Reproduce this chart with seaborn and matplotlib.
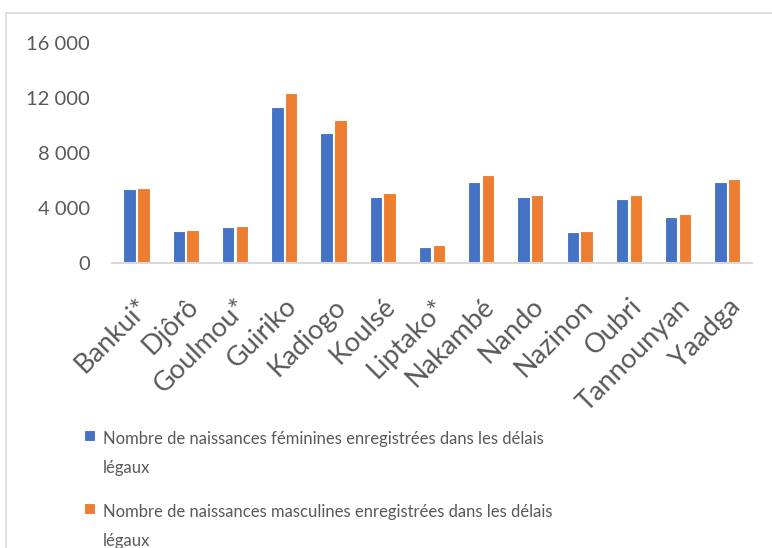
import numpy as np
import pandas as pd
import matplotlib
matplotlib.use("Agg")
import matplotlib.pyplot as plt
from matplotlib.lines import Line2D
from matplotlib.patches import Rectangle
from matplotlib.legend_handler import HandlerPatch
import seaborn as sns

regions = ["Bankui*", "Djôrô", "Goulmou*", "Guiriko", "Kadiogo", "Koulsé", "Liptako*",
           "Nakambé", "Nando", "Nazinon", "Oubri", "Tannounyan", "Yaadga"]
feminines = [5400, 2350, 2650, 11400, 9500, 4800, 1150, 5900, 4850, 2300, 4650, 3400, 5900]
masculines = [5500, 2420, 2700, 12350, 10400, 5100, 1300, 6400, 5000, 2350, 4950, 3600, 6120]
series = ["Nombre de naissances féminines enregistrées dans les délais\nlégaux",
          "Nombre de naissances masculines enregistrées dans les délais\nlégaux"]
yticks = [0, 4000, 8000, 12000, 16000]
ytick_labels = ["0", "4 000", "8 000", "12 000", "16 000"]

df = pd.DataFrame({
    "region": regions * 2,
    "valeur": feminines + masculines,
    "serie": [series[0]] * len(regions) + [series[1]] * len(regions),
})

sns.set_style("white")
plt.rcParams["font.family"] = ["Lato", "DejaVu Sans"]
text_color = "#595959"

fig = plt.figure(figsize=(7.72, 5.48), dpi=100)
ax = fig.add_axes([0.145, 0.5195, 0.829, 0.4015])

sns.barplot(data=df, x="region", y="valeur", hue="serie",
            palette=["#4472C4", "#ED7D31"], saturation=1, width=0.56, gap=0.1,
            edgecolor="white", linewidth=0.8, ax=ax, legend=True)

ax.set_ylim(0, 16000)
ax.set_xlim(-0.5, len(regions) - 0.5)
ax.set_yticks(yticks)
ax.set_yticklabels(ytick_labels, fontsize=14.5, color=text_color)
ax.set_xticks(range(len(regions)))
ax.set_xticklabels(regions, rotation=45, ha="right", va="top", rotation_mode="anchor",
                   fontsize=19.5, color=text_color)
ax.tick_params(axis="y", length=0, pad=16)
ax.tick_params(axis="x", length=0, pad=22)
ax.set_xlabel("")
ax.set_ylabel("")
for s in ["top", "right", "left"]:
    ax.spines[s].set_visible(False)
ax.spines["bottom"].set_color("#D9D9D9")
ax.spines["bottom"].set_linewidth(1.5)


# legend square sits next to the first line of the wrapped label
def top_square(legend, orig_handle, xdescent, ydescent, width, height, fontsize):
    s = 0.65 * fontsize
    return Rectangle((-xdescent, -ydescent + 1.85 * fontsize), s, s,
                     facecolor=orig_handle.get_facecolor(), edgecolor="none")


handles, labels = ax.get_legend_handles_labels()
ax.get_legend().remove()
leg = fig.legend(handles, labels, loc="upper left", bbox_to_anchor=(0.09, 0.24),
                 frameon=False, fontsize=12, handlelength=0.65, handleheight=2.7,
                 handletextpad=0.45, labelspacing=1.67, labelcolor=text_color,
                 handler_map={h: HandlerPatch(patch_func=top_square) for h in handles})
for t in leg.get_texts():
    t.set_linespacing(1.98)

# chart border (left and top)
fig.add_artist(Line2D([6 / 772, 6 / 772], [0, 1 - 13 / 548], color="#D9D9D9", lw=1.2,
                      transform=fig.transFigure))
fig.add_artist(Line2D([6 / 772, 1], [1 - 13 / 548, 1 - 13 / 548], color="#D9D9D9", lw=1.2,
                      transform=fig.transFigure))

fig.savefig("out.png", dpi=100)
